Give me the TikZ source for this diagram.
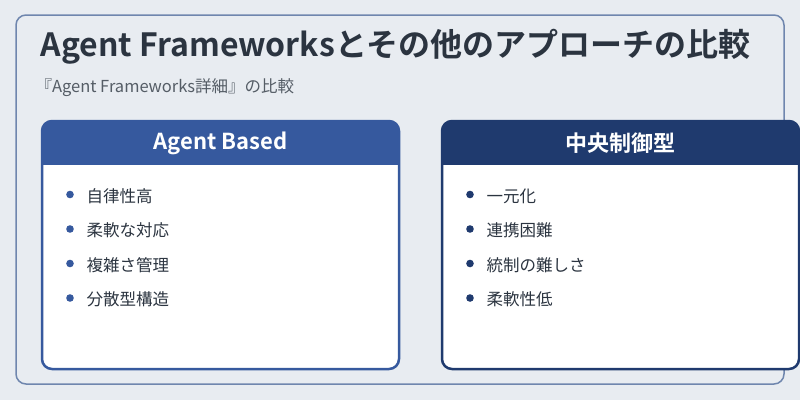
\documentclass[tikz,border=0pt]{standalone}
\usepackage{fontspec}
\setmainfont{Noto Sans CJK JP}
\newfontfamily\cjkbold{Noto Sans CJK JP Bold}
\usetikzlibrary{positioning}
\definecolor{bgc}{HTML}{E8ECF1}
\definecolor{framec}{HTML}{6F86AE}
\definecolor{agentc}{HTML}{36599E}
\definecolor{centralc}{HTML}{1F3A6E}
\definecolor{textc}{HTML}{2B3440}
\definecolor{subc}{HTML}{555D66}
\tikzset{
  headtext/.style={text=white, font=\cjkbold\fontsize{22}{26}\selectfont, anchor=center},
  itemtext/.style={text=textc, font=\fontsize{16.5}{20}\selectfont, anchor=west},
}
\begin{document}
\begin{tikzpicture}[x=1pt, y=-1pt]
\useasboundingbox (0,0) rectangle (800,400);
\fill[bgc] (0,0) rectangle (800,400);
\draw[framec, line width=1.5pt, fill=bgc, rounded corners=10pt] (16,15) rectangle (784,384);

\node[anchor=west, text=textc, font=\cjkbold\fontsize{32}{36}\selectfont] (title) at (37,47) {Agent Frameworksとその他のアプローチの比較};
\node[anchor=west, text=subc, font=\fontsize{16.5}{20}\selectfont] (subtitle) at (32,88) {『Agent Frameworks詳細』の比較};

% left card
\draw[agentc, line width=2.5pt, fill=white, rounded corners=10pt] (42,121) rectangle (399,369);
\fill[agentc, rounded corners=10pt] (42,121) rectangle (399,150);
\fill[agentc] (42,140) rectangle (399,165);
\node[headtext] (agenthead) at (220.5,143) {Agent Based};

% right card
\draw[centralc, line width=2.5pt, fill=white, rounded corners=10pt] (442,121) rectangle (799,369);
\fill[centralc, rounded corners=10pt] (442,121) rectangle (799,150);
\fill[centralc] (442,140) rectangle (799,165);
\node[headtext] (centralhead) at (620.5,143) {中央制御型};

\foreach \t [count=\i] in {自律性高, 柔軟な対応, 複雑さ管理, 分散型構造} {
  \fill[agentc] (70,{160+\i*34.5}) circle (3.8pt);
  \node[itemtext] (agent\i) at (83,{161.5+\i*34.5}) {\t};
}
\foreach \t [count=\i] in {一元化, 連携困難, 統制の難しさ, 柔軟性低} {
  \fill[centralc] (470,{160+\i*34.5}) circle (3.8pt);
  \node[itemtext] (central\i) at (483,{161.5+\i*34.5}) {\t};
}
\end{tikzpicture}
\end{document}
